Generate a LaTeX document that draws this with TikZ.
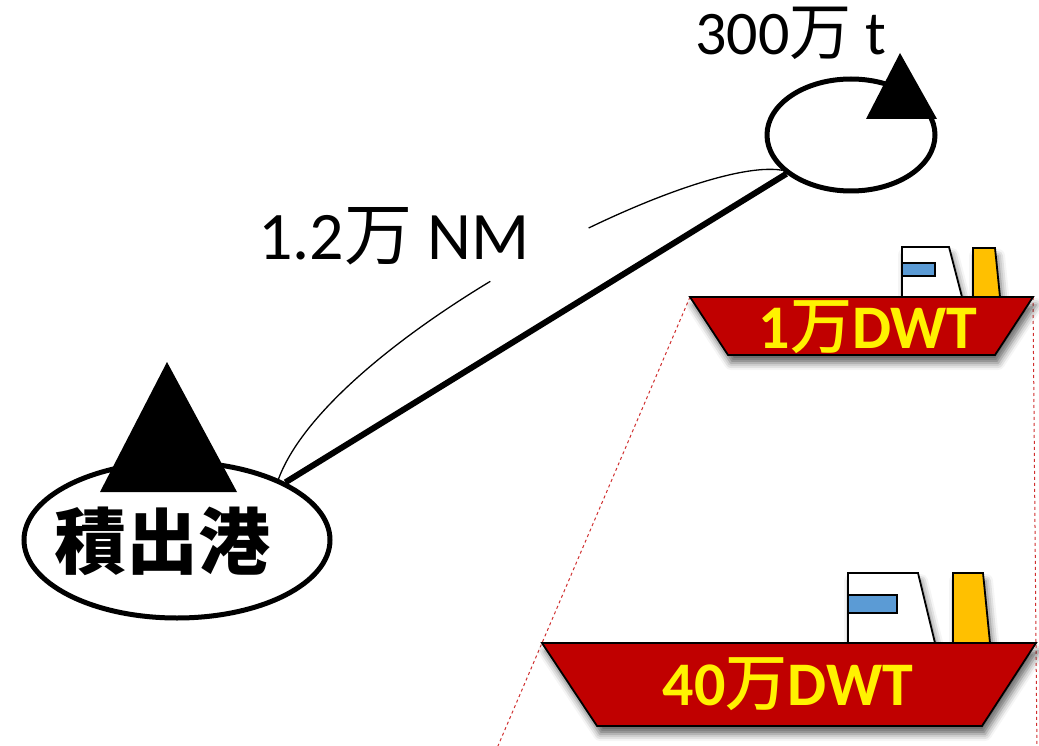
\documentclass[tikz,border=0pt]{standalone}
\usepackage{fontspec}
\setmainfont{Carlito}
\newfontfamily\jp{Noto Sans CJK JP}
\newfontfamily\jpmed{Noto Sans CJK JP Medium}
\usetikzlibrary{shapes.geometric, shadows.blur, calc}

\definecolor{hullred}{HTML}{C00000}
\definecolor{stackyellow}{HTML}{FFC000}
\definecolor{windowblue}{HTML}{5B9BD5}
\definecolor{guidered}{HTML}{D03030}

\tikzset{
    portmark/.style={ellipse, draw, line width=5pt, fill=white, inner sep=0pt},
    shipshadow/.style={blur shadow={shadow xshift=3pt, shadow yshift=-8pt, shadow blur radius=7pt, shadow opacity=60}},
    hull/.style={fill=hullred, draw=black, line width=1.8pt, shipshadow},
    cabin/.style={fill=white, draw=black, line width=1.8pt, shipshadow},
    stack/.style={fill=stackyellow, draw=black, line width=1.8pt, shipshadow},
    pane/.style={fill=windowblue, draw=black, line width=1.4pt},
    guide/.style={guidered, dashed, line width=1pt},
    shiplabel/.style={anchor=base, inner sep=0pt, text=yellow, font=\bfseries\fontsize{62}{62}\selectfont}
}

\begin{document}
\begin{tikzpicture}[x=1pt, y=-1pt]
    \useasboundingbox (0,0) rectangle (1039,746);

    % hull corners of both ships
    \coordinate (s1) at (690,297);
    \coordinate (s2) at (1033,297);
    \coordinate (b1) at (542,643);
    \coordinate (b2) at (1036,643);

    % dashed guides between the ships
    \draw[guide] (s1) -- ($(s1)!1.3!(b1)$);
    \draw[guide] (s2) -- ($(s2)!1.3!(b2)$);

    % the two ports
    \node[portmark, minimum width=306pt, minimum height=156pt] (port) at (177,540) {};
    \node[portmark, minimum width=168pt, minimum height=112pt] (dest) at (851,135) {};

    % route and distance bracket
    \draw[line width=6pt] (port.28) -- (dest.211);
    \draw[line width=1.3pt, dash pattern=on 294pt off 112pt on 400pt]
        (port.31) .. controls (330,340) and (690,155) .. (dest.207);

    % triangles on the ports
    \fill (167,362) -- (237,492) -- (100,492) -- cycle;
    \fill (900,53) -- (937,119) -- (866,119) -- cycle;

    \node[font=\jp\bfseries\fontsize{72}{72}\selectfont, inner sep=0pt] (portname) at (162,541) {積出港};
    \node[anchor=base, inner sep=0pt, font=\fontsize{62}{62}\selectfont] (amount) at (791,55) {300{\jp 万} t};
    \node[anchor=base, inner sep=0pt, font=\fontsize{68}{68}\selectfont] (dist) at (394,260) {1.2{\jp 万} NM};

    % small ship
    \draw[cabin] (902,297) -- (902,247) -- (949,247) -- (962,297) -- cycle;
    \draw[pane] (902,263) rectangle (935,276);
    \draw[stack] (973,297) -- (973,248) -- (995,248) -- (1000,297) -- cycle;
    \draw[hull] (s1) -- (s2) -- (995,355) -- (728,355) -- cycle;
    \node[shiplabel] (small) at (868,348) {1{\mdseries\jpmed 万}DWT};

    % large ship
    \draw[cabin] (848,643) -- (848,573) -- (918,573) -- (935,643) -- cycle;
    \draw[pane] (848,595) rectangle (897,613);
    \draw[stack] (953,643) -- (953,573) -- (983,573) -- (990,643) -- cycle;
    \draw[hull] (b1) -- (b2) -- (982,726) -- (597,726) -- cycle;
    \node[shiplabel] (large) at (788,705) {40{\mdseries\jpmed 万}DWT};
\end{tikzpicture}
\end{document}
